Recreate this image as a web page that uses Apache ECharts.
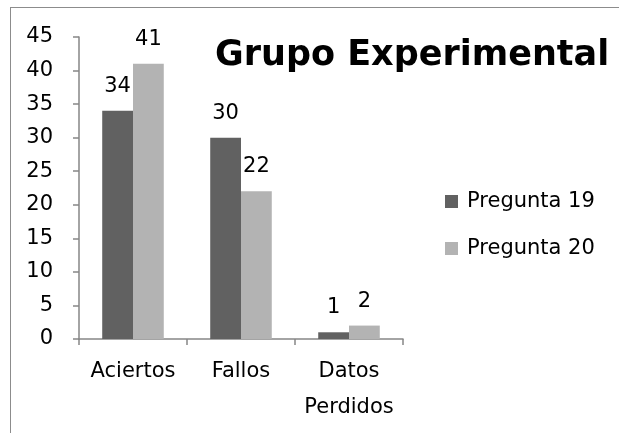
<!DOCTYPE html>
<html>
<head>
<meta charset="utf-8">
<script src="https://cdn.jsdelivr.net/npm/echarts@6/dist/echarts.min.js"></script>
<style>
  html, body { margin: 0; padding: 0; background: #fff; }
  #wrap { position: relative; width: 619px; height: 433px; overflow: hidden; }
  #frame {
    position: absolute; left: 10px; top: 7px; width: 700px; height: 500px;
    border: 1.5px solid #8c8c8c; box-sizing: border-box;
  }
  #chart { position: absolute; left: 0; top: 0; width: 619px; height: 433px; }
</style>
</head>
<body>
<div id="wrap">
  <div id="frame"></div>
  <div id="chart"></div>
</div>
<script>
const categories = ['Aciertos', 'Fallos', 'Datos\nPerdidos']
const pregunta19 = [34, 30, 1]
const pregunta20 = [41, 22, 2]
const seriesNames = ['Pregunta 19', 'Pregunta 20']
const yTicks = { min: 0, max: 45, interval: 5 }

const font = 'DejaVu Sans'
const chart = echarts.init(document.getElementById('chart'))

const labelStyle = {
  show: true,
  position: 'top',
  distance: 14,
  color: '#000',
  fontFamily: font,
  fontSize: 21
}

chart.setOption({
  animation: false,
  backgroundColor: 'transparent',
  title: {
    text: 'Grupo Experimental',
    left: 210,
    top: 33,
    textStyle: { fontFamily: font, fontWeight: 'bold', fontSize: 35, color: '#000' }
  },
  legend: {
    orient: 'vertical',
    left: 440,
    top: 186,
    itemWidth: 13,
    itemHeight: 13,
    itemGap: 26,
    icon: 'rect',
    textStyle: { fontFamily: font, fontSize: 21, color: '#000', padding: [0, 0, 0, 4] },
    data: seriesNames
  },
  grid: { left: 79, right: 216, top: 37, bottom: 94 },
  xAxis: {
    type: 'category',
    data: categories,
    axisLine: { lineStyle: { color: '#868686', width: 1.5 } },
    axisTick: { show: true, length: 6, lineStyle: { color: '#868686', width: 1.5 } },
    axisLabel: {
      color: '#000', fontFamily: font, fontSize: 21,
      margin: 15, lineHeight: 36, interval: 0
    }
  },
  yAxis: {
    type: 'value',
    min: yTicks.min,
    max: yTicks.max,
    interval: yTicks.interval,
    axisLine: { show: true, lineStyle: { color: '#868686', width: 1.5 } },
    axisTick: { show: true, length: 6, lineStyle: { color: '#868686', width: 1.5 } },
    splitLine: { show: false },
    axisLabel: { color: '#000', fontFamily: font, fontSize: 21, margin: 26 }
  },
  series: [
    {
      name: seriesNames[0],
      type: 'bar',
      data: pregunta19,
      barGap: '0%',
      barCategoryGap: '43%',
      itemStyle: { color: '#616161' },
      label: labelStyle
    },
    {
      name: seriesNames[1],
      type: 'bar',
      data: pregunta20,
      itemStyle: { color: '#b3b3b3' },
      label: labelStyle
    }
  ]
})

window.addEventListener('resize', () => chart.resize())
</script>
</body>
</html>
